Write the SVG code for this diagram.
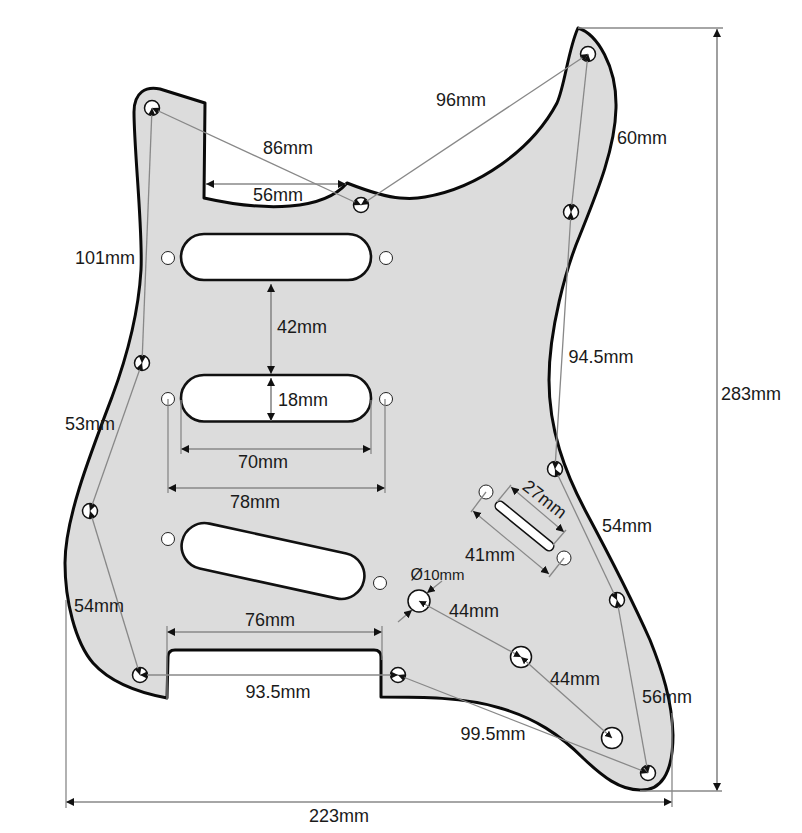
<svg xmlns="http://www.w3.org/2000/svg" width="802" height="833" viewBox="0 0 802 833">
<style>
text{font-family:"Liberation Sans",Arial,sans-serif;font-size:18px;fill:#1a1a1a;text-anchor:middle}
.o{fill:#fff;stroke:#111;stroke-width:1.5}
.p{fill:#fff;stroke:#111;stroke-width:2.6}
.h{fill:#fff;stroke:#222;stroke-width:1}
line{stroke:#888;stroke-width:1.3;fill:none}
.d{stroke-width:1.6;marker-start:url(#a);marker-end:url(#a)}
.c{marker-start:url(#b);marker-end:url(#b)}
.e{marker-end:url(#a)}
</style>
<defs>
<marker id="a" markerUnits="userSpaceOnUse" markerWidth="9" markerHeight="9" refX="8" refY="4" orient="auto-start-reverse"><path d="M0 0L8 4L0 8Z" fill="#111"/></marker>
<marker id="b" markerUnits="userSpaceOnUse" markerWidth="8" markerHeight="8" refX="7" refY="3.5" orient="auto-start-reverse"><path d="M0 0L7 3.5L0 7Z" fill="#111"/></marker>
</defs>
<rect width="802" height="833" fill="#fff"/>
<g id="pickguard"><path d="M578 28C597 34 617 66 616 108C615 150 596 195 580 235C566 268 549 330 549 380C549 430 565 472 585 510C608 553 630 595 650 640C662 670 672 700 673 735C673 775 660 791 640 790C620 790 603 777 583 758C560 735 535 718 500 708C465 697 420 697 381 697L381 657Q381 650 374 650L175 650Q168 650 168 657L167 698C135 692 110 682 93 663C75 642 65 600 65 563C65 520 88 460 112 397C125 362 138 320 141 270C143 230 134 150 134 112C134 92 146 86 160 89L205 103L204 198C235 205 265 208 290 206C315 204 335 197 347 183C365 190 385 197 400 198C412 199 420 198 425 197C478 188 532 150 557 103C565 85 568 50 578 28Z" fill="#dcdcdc" stroke="#0a0a0a" stroke-width="3" stroke-linejoin="round"/></g>
<g id="pickup-neck"><rect class="p" x="181" y="234" width="190" height="46" rx="23"/></g>
<g id="pickup-middle"><rect class="p" x="181" y="375" width="190" height="46.5" rx="23"/></g>
<g id="pickup-bridge"><rect class="p" x="180" y="538" width="186" height="46" rx="23" transform="rotate(12.3 273 561)"/></g>
<g id="switch-slot"><path d="M500 506L549 546" stroke="#111" stroke-width="11" stroke-linecap="round"/><path d="M500 506L549 546" stroke="#fff" stroke-width="8" stroke-linecap="round"/></g>
<g id="screw-holes">
<circle class="h" cx="168" cy="258" r="6.5"/><circle class="h" cx="386" cy="258" r="6.5"/>
<circle class="h" cx="168" cy="399" r="6.5"/><circle class="h" cx="386" cy="399" r="6.5"/>
<circle class="h" cx="168" cy="539" r="6.5"/><circle class="h" cx="380" cy="583" r="6.5"/>
<circle class="h" cx="486" cy="492" r="7"/><circle class="h" cx="564" cy="558" r="7"/>
</g>
<g id="mount-holes">
<circle class="o" cx="152" cy="108" r="7.5"/><circle class="o" cx="361" cy="205" r="7.5"/><circle class="o" cx="588" cy="54" r="7.5"/>
<circle class="o" cx="571" cy="212" r="7.5"/><circle class="o" cx="555" cy="469" r="7.5"/><circle class="o" cx="617" cy="600" r="7.5"/>
<circle class="o" cx="648" cy="773" r="7.5"/><circle class="o" cx="398" cy="675" r="7.5"/><circle class="o" cx="140" cy="675" r="7.5"/>
<circle class="o" cx="90" cy="511" r="7.5"/><circle class="o" cx="142" cy="363" r="7.5"/>
</g>
<g id="pot-holes"><circle class="o" cx="419" cy="601" r="11"/><circle class="o" cx="521" cy="657" r="10.5"/><circle class="o" cx="612" cy="738" r="10.5"/></g>
<g id="connectors">
<line class="c" x1="152" y1="108" x2="361" y2="205"/>
<line class="c" x1="361" y1="205" x2="588" y2="54"/>
<line class="c" x1="152" y1="108" x2="142" y2="363"/>
<line class="c" x1="142" y1="363" x2="90" y2="511"/>
<line class="c" x1="90" y1="511" x2="140" y2="675"/>
<line class="c" x1="140" y1="675" x2="398" y2="675"/>
<line class="c" x1="398" y1="675" x2="648" y2="773"/>
<line class="c" x1="648" y1="773" x2="617" y2="600"/>
<line class="c" x1="617" y1="600" x2="555" y2="469"/>
<line class="c" x1="555" y1="469" x2="571" y2="212"/>
<line class="c" x1="571" y1="212" x2="588" y2="54"/>
<line class="c" x1="419" y1="601" x2="521" y2="657"/>
<line class="c" x1="521" y1="657" x2="612" y2="738"/>
<line class="d" x1="206" y1="184" x2="346" y2="184"/>
<line class="d" x1="271" y1="284" x2="271" y2="374"/>
<line class="d" x1="271" y1="378" x2="271" y2="421"/>
<line class="d" x1="181" y1="449" x2="371" y2="449"/>
<line class="d" x1="168" y1="488" x2="385" y2="488"/>
<line class="d" x1="167" y1="632" x2="382" y2="632"/>
<line class="d" x1="66" y1="802" x2="672" y2="802"/>
<line class="d" x1="717" y1="29" x2="717" y2="791"/>
<line class="d" x1="511" y1="487" x2="564" y2="532" style="stroke-width:1.2"/>
<line class="d" x1="473" y1="511" x2="549" y2="574" style="stroke-width:1.2"/>
<line class="e" x1="442" y1="581" x2="427" y2="593"/>
<line class="e" x1="398" y1="622" x2="412" y2="610"/>
<line x1="181" y1="400" x2="181" y2="454"/><line x1="371" y1="400" x2="371" y2="454"/>
<line x1="168" y1="399" x2="168" y2="493"/><line x1="385" y1="399" x2="385" y2="493"/>
<line x1="167" y1="626" x2="167" y2="700"/><line x1="382" y1="626" x2="382" y2="660"/>
<line x1="66" y1="600" x2="66" y2="808"/><line x1="672" y1="713" x2="672" y2="807"/>
<line x1="640" y1="791" x2="722" y2="791"/><line x1="578" y1="28" x2="723" y2="28"/>
<line x1="497" y1="502" x2="511" y2="485"/><line x1="553" y1="545" x2="566" y2="530"/>
<line x1="486" y1="492" x2="471" y2="512"/><line x1="564" y1="558" x2="549" y2="577"/>
</g>
<g id="labels">
<text x="461" y="106">96mm</text><text x="288" y="154">86mm</text><text x="278" y="201">56mm</text>
<text x="642" y="144">60mm</text><text x="105" y="264">101mm</text><text x="302" y="333">42mm</text>
<text x="303" y="406">18mm</text><text x="601" y="363">94.5mm</text><text x="751" y="400">283mm</text>
<text x="90" y="430">53mm</text><text x="263" y="468">70mm</text><text x="255" y="508">78mm</text>
<text x="541" y="504" transform="rotate(38 541 504)">27mm</text><text x="627" y="532">54mm</text><text x="490" y="561">41mm</text>
<text x="437.5" y="580"><tspan style="font-size:16px">Ø</tspan><tspan style="font-size:15px">10mm</tspan></text>
<text x="474" y="617">44mm</text><text x="270" y="626">76mm</text><text x="575" y="685">44mm</text>
<text x="99" y="612">54mm</text><text x="278" y="698">93.5mm</text><text x="667" y="703">56mm</text>
<text x="493" y="740">99.5mm</text><text x="339" y="822">223mm</text>
</g>
</svg>
